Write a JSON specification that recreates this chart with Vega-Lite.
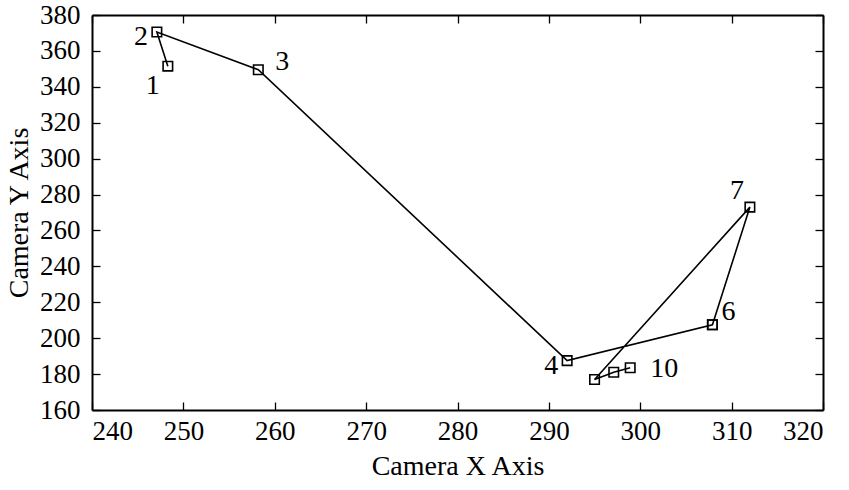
{
  "$schema": "https://vega.github.io/schema/vega-lite/v6.json",
  "width": 731,
  "height": 395,
  "autosize": {"type": "none"},
  "padding": {"left": 92, "top": 15, "right": 26, "bottom": 80},
  "background": "white",
  "config": {
    "font": "Liberation Serif",
    "view": {"stroke": null},
    "axis": {
      "grid": false,
      "domainColor": "black",
      "domainWidth": 2,
      "tickColor": "black",
      "tickWidth": 1.3,
      "tickSize": -8,
      "labelFont": "Liberation Serif",
      "labelFontSize": 27,
      "labelColor": "black",
      "titleFont": "Liberation Serif",
      "titleFontSize": 28,
      "titleFontWeight": "normal",
      "titleColor": "black"
    }
  },
  "data": {
    "values": [
      {"n": 1, "cx": 248.3, "cy": 351.5, "label": "1"},
      {"n": 2, "cx": 247.1, "cy": 370.5, "label": "2"},
      {"n": 3, "cx": 258.2, "cy": 349.5, "label": "3"},
      {"n": 4, "cx": 292.0, "cy": 187.5, "label": "4"},
      {"n": 5, "cx": 307.9, "cy": 207.5, "label": ""},
      {"n": 6, "cx": 307.9, "cy": 207.5, "label": "6"},
      {"n": 7, "cx": 312.0, "cy": 273.0, "label": "7"},
      {"n": 8, "cx": 295.0, "cy": 177.0, "label": ""},
      {"n": 9, "cx": 297.1, "cy": 181.0, "label": ""},
      {"n": 10, "cx": 298.9, "cy": 183.5, "label": "10"}
    ]
  },
  "layer": [
    {
      "encoding": {
        "x": {
          "field": "cx", "type": "quantitative",
          "scale": {"domain": [240, 320], "nice": false, "zero": false},
          "axis": {"title": "Camera X Axis", "values": [240, 250, 260, 270, 280, 290, 300, 310, 320], "labelPadding": 16, "titlePadding": 8}
        },
        "y": {
          "field": "cy", "type": "quantitative",
          "scale": {"domain": [160, 380], "nice": false, "zero": false},
          "axis": {"title": "Camera Y Axis", "values": [160, 180, 200, 220, 240, 260, 280, 300, 320, 340, 360, 380], "labelPadding": 20, "titlePadding": 6}
        }
      },
      "layer": [
        {
          "mark": {"type": "line", "color": "black", "strokeWidth": 1.6},
          "encoding": {"order": {"field": "n", "type": "quantitative"}}
        },
        {
          "mark": {"type": "point", "shape": "square", "size": 90, "filled": false, "color": "black", "strokeWidth": 1.6, "opacity": 1}
        },
        {
          "transform": [{"filter": "datum.label == '1'"}],
          "mark": {"type": "text", "fontSize": 28, "dx": -15, "dy": 20, "color": "black"},
          "encoding": {"text": {"field": "label"}}
        },
        {
          "transform": [{"filter": "datum.label == '2' || datum.label == '4'"}],
          "mark": {"type": "text", "fontSize": 28, "dx": -16, "dy": 5, "color": "black"},
          "encoding": {"text": {"field": "label"}}
        },
        {
          "transform": [{"filter": "datum.label == '3'"}],
          "mark": {"type": "text", "fontSize": 28, "dx": 24, "dy": -8, "color": "black"},
          "encoding": {"text": {"field": "label"}}
        },
        {
          "transform": [{"filter": "datum.label == '6'"}],
          "mark": {"type": "text", "fontSize": 28, "dx": 16, "dy": -13, "color": "black"},
          "encoding": {"text": {"field": "label"}}
        },
        {
          "transform": [{"filter": "datum.label == '7'"}],
          "mark": {"type": "text", "fontSize": 28, "dx": -13, "dy": -16, "color": "black"},
          "encoding": {"text": {"field": "label"}}
        },
        {
          "transform": [{"filter": "datum.label == '10'"}],
          "mark": {"type": "text", "fontSize": 28, "dx": 34, "dy": 1, "color": "black"},
          "encoding": {"text": {"field": "label"}}
        }
      ]
    },
    {
      "mark": {"type": "point", "opacity": 0},
      "encoding": {
        "x": {
          "field": "cx", "type": "quantitative",
          "axis": {"orient": "top", "title": null, "labels": false, "tickSize": -8, "values": [240, 250, 260, 270, 280, 290, 300, 310, 320]}
        },
        "y": {
          "field": "cy", "type": "quantitative",
          "axis": {"orient": "right", "title": null, "labels": false, "tickSize": -8, "values": [160, 180, 200, 220, 240, 260, 280, 300, 320, 340, 360, 380]}
        }
      }
    }
  ],
  "resolve": {"axis": {"x": "independent", "y": "independent"}}
}
